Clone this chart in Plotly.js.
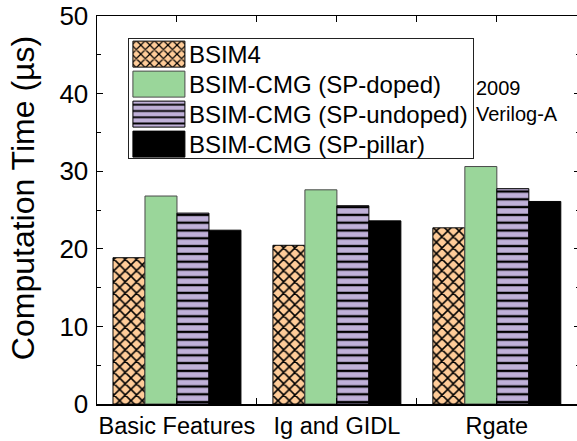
<!DOCTYPE html>
<html>
<head>
<meta charset="utf-8">
<script src="https://cdn.plot.ly/plotly-3.0.1.min.js"></script>
<style>
html, body { margin: 0; padding: 0; overflow: hidden; background: #fff; }
#chart { width: 580px; height: 441px; }
</style>
</head>
<body>
<div id="chart"></div>
<script>
// ---- data ----
const categories = ['Basic Features', 'Ig and GIDL', 'Rgate'];
const seriesNames = ['BSIM4', 'BSIM-CMG (SP-doped)', 'BSIM-CMG (SP-undoped)', 'BSIM-CMG (SP-pillar)'];
const bsim4 = [18.85, 20.45, 22.7];
const spDoped = [26.8, 27.6, 30.6];
const spUndoped = [24.6, 25.55, 27.75];
const spPillar = [22.4, 23.6, 26.1];
const yTickVals = [0, 10, 20, 30, 40, 50];
const yTickText = ['0', '10', '20', '30', '40', '50'];
const noteLines = ['2009', 'Verilog-A'];

const FONT = 'Liberation Sans, Arial, Helvetica, sans-serif';
const xIdx = categories.map((c, i) => i);

const traces = [
  {
    type: 'bar', name: seriesNames[0], x: xIdx, y: bsim4,
    marker: {
      color: '#FFCC99',
      line: { color: '#000', width: 1 },
      pattern: { shape: 'x', fgcolor: '#000', bgcolor: '#FFCC99', size: 8, solidity: 0.35, fillmode: 'replace' }
    }
  },
  {
    type: 'bar', name: seriesNames[1], x: xIdx, y: spDoped,
    marker: { color: '#9AD69A', line: { color: '#4a4a4a', width: 1 } }
  },
  {
    type: 'bar', name: seriesNames[2], x: xIdx, y: spUndoped,
    marker: {
      color: '#C0B1D9',
      line: { color: '#000', width: 1 },
      pattern: { shape: '-', fgcolor: '#000', bgcolor: '#C0B1D9', size: 7.8, solidity: 0.3, fillmode: 'replace' }
    }
  },
  {
    type: 'bar', name: seriesNames[3], x: xIdx, y: spPillar,
    marker: { color: '#000000', line: { color: '#000', width: 1 } }
  }
];

const layout = {
  width: 580, height: 441,
  margin: { l: 97, r: 0, t: 16, b: 37 },
  paper_bgcolor: '#fff', plot_bgcolor: '#fff',
  font: { family: FONT, color: '#000' },
  barmode: 'group', bargap: 0.2, bargroupgap: 0,
  showlegend: true,
  legend: {
    x: 0.064, y: 0.943, xanchor: 'left', yanchor: 'top',
    bgcolor: '#fff', bordercolor: '#222', borderwidth: 1,
    font: { family: FONT, size: 24, color: '#000' },
    itemwidth: 50, tracegroupgap: 0
  },
  xaxis: {
    type: 'linear', range: [-0.5, 2.52],
    tickmode: 'array', tickvals: xIdx, ticktext: categories,
    ticks: 'inside', ticklen: 6, tickwidth: 1, tickcolor: '#000',
    minor: { tickvals: [0.5, 1.5], ticks: 'inside', ticklen: 6, tickwidth: 1, tickcolor: '#000' },
    showline: true, linecolor: '#000', linewidth: 1.5, mirror: 'ticks',
    showgrid: false, zeroline: false,
    tickfont: { family: FONT, size: 23.5, color: '#000' }
  },
  yaxis: {
    range: [0, 50],
    tickmode: 'array', tickvals: yTickVals, ticktext: yTickText,
    ticks: 'inside', ticklen: 6, tickwidth: 1, tickcolor: '#000',
    minor: { dtick: 5, tick0: 0, ticks: 'inside', ticklen: 4, tickwidth: 1, tickcolor: '#000', showgrid: false },
    showline: true, linecolor: '#000', linewidth: 1.5, mirror: 'ticks',
    showgrid: false, zeroline: false,
    ticklabelstandoff: 2,
    tickfont: { family: FONT, size: 26, color: '#000' },
    title: { text: 'Computation Time (µs)', font: { family: FONT, size: 32, color: '#000' }, standoff: 15 }
  },
  annotations: [{
    xref: 'paper', yref: 'paper', x: 0.78, y: 0.781,
    xanchor: 'left', yanchor: 'middle', align: 'left', showarrow: false,
    text: noteLines.join('<br>'),
    font: { family: FONT, size: 20, color: '#000' }
  }]
};

Plotly.newPlot('chart', traces, layout, { displayModeBar: false, staticPlot: true }).then(function (gd) {
  // enlarge the legend swatches to match the reference's wide boxes
  gd.querySelectorAll('.legend .traces .legendpoints path').forEach(function (p) {
    p.setAttribute('d', 'M26,13H-26V-13H26Z');
  });
  // tighten legend row spacing to ~30px
  const items = gd.querySelectorAll('.legend .traces');
  items.forEach(function (g, i) {
    const t = g.getAttribute('transform') || '';
    const m = t.match(/translate\(([-\d.]+),\s*([-\d.]+)\)/);
    const x = m ? parseFloat(m[1]) : 1;
    g.setAttribute('transform', 'translate(' + x + ',' + (16 + 30 * i) + ')');
  });
  const bg = gd.querySelector('.legend .bg');
  if (bg) bg.setAttribute('height', 120);
  // shift the y title slightly upward as in the reference
  const yt = gd.querySelector('.ytitle');
  if (yt) yt.setAttribute('transform', 'translate(0,-12) ' + (yt.getAttribute('transform') || ''));
});
</script>
</body>
</html>
